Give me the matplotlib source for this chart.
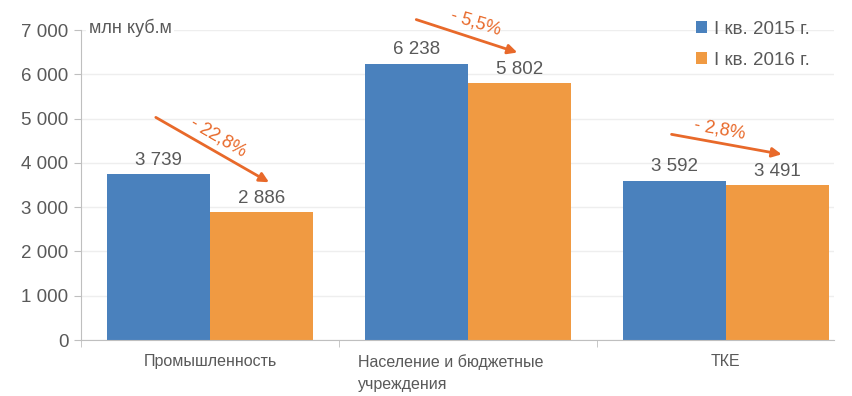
import numpy as np
import matplotlib
matplotlib.use("Agg")
import matplotlib.pyplot as plt
import matplotlib.transforms as mtransforms
from matplotlib.ticker import FuncFormatter

plt.rcParams['font.family'] = ['Liberation Sans', 'DejaVu Sans']

categories = ["Промышленность", "Население и бюджетные\nучреждения", "ТКЕ"]
series_names = ["I кв. 2015 г.", "I кв. 2016 г."]
vals_2015 = [3739, 6238, 3592]
vals_2016 = [2886, 5802, 3491]
changes = ["- 22,8%", "- 5,5%", "- 2,8%"]

blue = "#4A81BD"
orange = "#F09A42"
arrow_col = "#E8692A"
grey = "#595959"

fig = plt.figure(figsize=(8.52, 3.96), dpi=100)
ax = fig.add_axes([0.0951, 0.1414, 0.8838, 0.7828])

x = np.arange(len(categories))
w = 0.4
b1 = ax.bar(x - w/2, vals_2015, w, color=blue, label=series_names[0], zorder=2)
b2 = ax.bar(x + w/2, vals_2016, w, color=orange, label=series_names[1], zorder=2)

fmt = lambda v: f"{int(v):,}".replace(",", " ")
ax.bar_label(b1, labels=[fmt(v) for v in vals_2015], padding=4, fontsize=13.5, color=grey)
ax.bar_label(b2, labels=[fmt(v) for v in vals_2016], padding=4, fontsize=13.5, color=grey)

ax.set_xlim(-0.5, 2.42)
ax.set_ylim(0, 7000)
ax.set_yticks(range(0, 7001, 1000))
ax.yaxis.set_major_formatter(FuncFormatter(lambda v, p: fmt(v)))
ax.tick_params(axis='y', labelsize=13.5, colors=grey, length=5, color="#bfbfbf", pad=4)
ax.set_xticks(x)
ax.set_xticklabels(categories, fontsize=11.5, color=grey, multialignment='left',
                   linespacing=1.6)
ax.tick_params(axis='x', length=0, pad=10)
ax.set_xticks([-0.5, 0.5, 1.5], minor=True)
ax.tick_params(axis='x', which='minor', length=5, color="#bfbfbf")

# second label sits a bit left of its category centre in the original
lbl = ax.get_xticklabels()[1]
lbl.set_transform(lbl.get_transform() +
                  mtransforms.ScaledTranslation(-17/100, 0, fig.dpi_scale_trans))

ax.grid(axis='y', color="#eeeeee", linewidth=1, zorder=0)
for s in ['top', 'right']:
    ax.spines[s].set_visible(False)
for s in ['left', 'bottom']:
    ax.spines[s].set_color("#bfbfbf")

ax.text(-0.47, 7050, "млн куб.м", fontsize=13, color=grey, va='center', ha='left',
        bbox=dict(facecolor='white', edgecolor='none', pad=2), zorder=3)

# arrows with percent change
arrows = [((-0.21, 5027), (0.229, 3562)),
          ((0.80, 7236), (1.192, 6492)),
          ((1.79, 4644), (2.217, 4193))]
text_pos = [(0.031, 4576, -30), (1.029, 7169, -17), (1.977, 4757, -10)]
for (s, e), (tx, ty, rot), lab in zip(arrows, text_pos, changes):
    ax.annotate("", xy=e, xytext=s, annotation_clip=False,
                arrowprops=dict(arrowstyle="-|>", color=arrow_col, lw=2,
                                mutation_scale=14, shrinkA=0, shrinkB=0))
    ax.text(tx, ty, lab, fontsize=13, color=arrow_col, rotation=rot,
            ha='center', va='center', rotation_mode='anchor', clip_on=False)

leg = ax.legend(loc='upper right', bbox_to_anchor=(0.99, 1.085), frameon=False,
                fontsize=13.5, handlelength=0.6, handleheight=0.6,
                handletextpad=0.35, labelspacing=0.75)
for t in leg.get_texts():
    t.set_color(grey)

fig.savefig("out.png", dpi=100)
